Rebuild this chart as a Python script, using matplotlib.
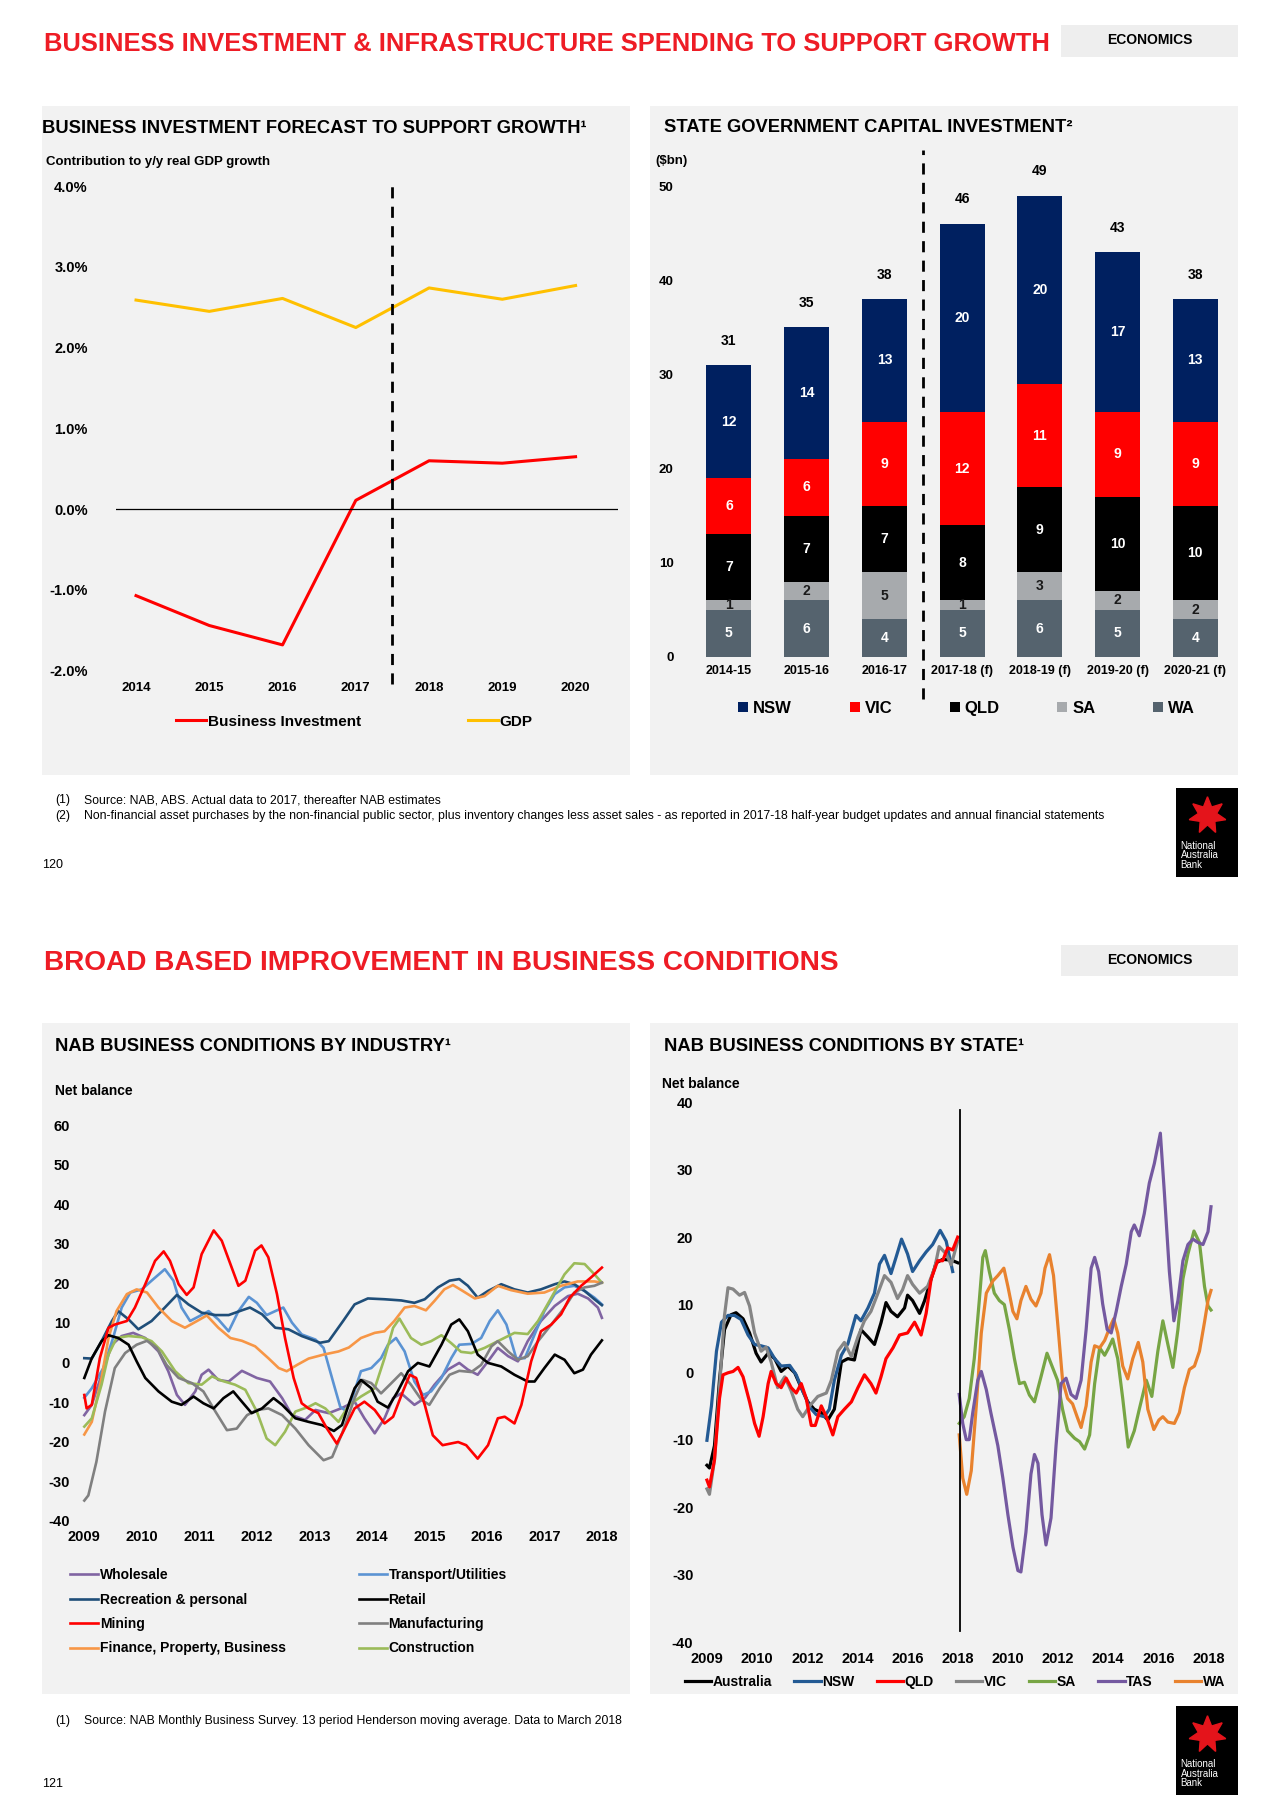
import numpy as np
import matplotlib
matplotlib.use('Agg')
import matplotlib.pyplot as plt
from matplotlib.patches import Rectangle
from matplotlib.lines import Line2D

plt.rcParams['font.family'] = ['Liberation Sans', 'DejaVu Sans']
NARROW = ['Liberation Sans Narrow', 'Liberation Sans', 'DejaVu Sans']

# ---------------- chart 1: business investment vs GDP (% contribution) ----------------
years = [2014, 2015, 2016, 2017, 2018, 2019, 2020]
business_inv = [-1.07, -1.44, -1.68, 0.11, 0.60, 0.57, 0.65]
gdp = [2.59, 2.45, 2.61, 2.25, 2.74, 2.60, 2.77]
pct_ticks = [-2, -1, 0, 1, 2, 3, 4]

# ---------------- chart 2: state government capital investment ($bn) ----------------
fin_years = ['2014-15', '2015-16', '2016-17', '2017-18 (f)', '2018-19 (f)', '2019-20 (f)', '2020-21 (f)']
wa = [5, 6, 4, 5, 6, 5, 4]
sa = [1, 2, 5, 1, 3, 2, 2]
qld = [7, 7, 7, 8, 9, 10, 10]
vic = [6, 6, 9, 12, 11, 9, 9]
nsw = [12, 14, 13, 20, 20, 17, 13]
totals = [31, 35, 38, 46, 49, 43, 38]

# ---------------- chart 3: business conditions by industry (net balance) ----------------
wholesale_x = [2009.0, 2009.13, 2009.3, 2009.48, 2009.65, 2009.85, 2010.06, 2010.29, 2010.46, 2010.61, 2010.75, 2010.93,
               2011.04, 2011.16, 2011.33, 2011.51, 2011.74, 2012.0, 2012.23, 2012.44, 2012.61, 2012.84, 2013.02, 2013.25,
               2013.48, 2013.7, 2013.87, 2014.05, 2014.22, 2014.37, 2014.51, 2014.74, 2014.92, 2015.09, 2015.32, 2015.52,
               2015.67, 2015.84, 2016.02, 2016.19, 2016.37, 2016.54, 2016.71, 2016.94, 2017.18, 2017.41, 2017.58, 2017.76,
               2017.93, 2018.0]
wholesale_y = [-13.3, -10.7, -3.1, 4.5, 6.7, 7.5, 6.2, 2.8, -2.2, -8.2, -10.7, -7.3,
               -3.1, -1.8, -4.4, -4.8, -2.1, -3.9, -4.8, -9.0, -13.3, -14.5, -12.0, -12.8,
               -11.5, -9.9, -14.1, -17.9, -14.1, -9.0, -7.8, -10.7, -9.0, -5.6, -1.8, -0.1,
               -1.8, -3.1, 0.3, 3.7, 1.6, 0.3, 5.4, 10.5, 14.3, 16.8, 17.4, 16.2,
               13.9, 11.3]

transport_x = [2009.0, 2009.13, 2009.33, 2009.5, 2009.65, 2009.8, 2010.0, 2010.17, 2010.4, 2010.55, 2010.69, 2010.84,
               2011.01, 2011.16, 2011.33, 2011.51, 2011.68, 2011.86, 2012.0, 2012.17, 2012.32, 2012.46, 2012.61, 2012.78,
               2013.02, 2013.16, 2013.34, 2013.45, 2013.55, 2013.66, 2013.81, 2013.99, 2014.16, 2014.28, 2014.42, 2014.57,
               2014.74, 2014.89, 2015.03, 2015.21, 2015.38, 2015.52, 2015.73, 2015.9, 2016.05, 2016.19, 2016.34, 2016.51,
               2016.66, 2016.83, 2017.0, 2017.18, 2017.35, 2017.52, 2017.7, 2017.87, 2018.0]
transport_y = [-8.9, -6.5, -1.4, 6.2, 13.9, 17.7, 18.5, 20.7, 23.6, 20.7, 13.9, 10.5,
               11.8, 13.0, 10.9, 7.9, 13.0, 16.6, 15.1, 12.0, 13.0, 13.9, 10.1, 7.1,
               5.8, 3.7, -5.6, -11.2, -12.2, -9.0, -2.2, -1.4, 1.1, 4.5, 6.2, 2.8,
               -4.8, -8.2, -7.3, -3.9, 1.1, 4.5, 4.7, 6.2, 10.5, 13.2, 9.6, 1.1,
               1.1, 7.1, 13.0, 17.3, 19.0, 19.4, 18.1, 16.4, 14.7]

recreation_x = [2009.0, 2009.13, 2009.3, 2009.48, 2009.59, 2009.77, 2009.94, 2010.17, 2010.4, 2010.61, 2010.81, 2011.04,
                2011.28, 2011.51, 2011.74, 2011.88, 2012.09, 2012.32, 2012.55, 2012.78, 2013.1, 2013.25, 2013.5, 2013.7,
                2013.93, 2014.22, 2014.51, 2014.74, 2014.92, 2015.15, 2015.35, 2015.52, 2015.67, 2015.84, 2016.02, 2016.25,
                2016.48, 2016.71, 2016.94, 2017.18, 2017.35, 2017.52, 2017.7, 2017.87, 2018.0]
recreation_y = [1.1, 1.0, 5.4, 10.5, 13.0, 10.9, 8.4, 10.5, 13.9, 17.1, 14.7, 12.6,
                12.0, 12.0, 13.2, 13.9, 12.2, 8.8, 8.4, 6.7, 5.0, 5.4, 10.5, 14.7,
                16.2, 16.0, 15.7, 15.1, 16.0, 19.0, 20.7, 21.1, 19.4, 16.4, 18.1, 19.8,
                18.5, 17.7, 18.5, 19.8, 20.5, 19.8, 18.1, 16.0, 14.5]

retail_x = [2009.0, 2009.13, 2009.3, 2009.42, 2009.59, 2009.77, 2009.91, 2010.06, 2010.29, 2010.52, 2010.69, 2010.9,
            2011.07, 2011.25, 2011.42, 2011.59, 2011.74, 2011.91, 2012.09, 2012.29, 2012.44, 2012.67, 2012.9, 2013.13,
            2013.34, 2013.48, 2013.6, 2013.7, 2013.81, 2013.99, 2014.1, 2014.28, 2014.45, 2014.63, 2014.8, 2015.0,
            2015.21, 2015.38, 2015.52, 2015.67, 2015.84, 2016.02, 2016.25, 2016.48, 2016.71, 2016.83, 2017.0, 2017.18,
            2017.35, 2017.52, 2017.67, 2017.81, 2018.0]
retail_y = [-3.9, 1.1, 5.4, 6.9, 6.2, 4.5, 0.3, -3.9, -7.3, -9.9, -10.7, -8.6,
            -10.3, -11.6, -9.0, -7.3, -9.9, -12.8, -11.6, -9.0, -10.7, -14.1, -15.0, -15.8,
            -17.3, -15.8, -10.5, -6.5, -4.4, -6.5, -9.9, -11.4, -7.3, -2.2, -0.1, -1.0,
            4.5, 9.6, 10.9, 7.9, 2.0, -0.1, -1.0, -3.1, -4.8, -4.8, -1.4, 2.0,
            0.7, -2.7, -1.8, 2.0, 5.6]

mining_x = [2009.0, 2009.04, 2009.13, 2009.27, 2009.42, 2009.53, 2009.74, 2009.88, 2010.06, 2010.23, 2010.38, 2010.49,
            2010.64, 2010.78, 2010.9, 2011.04, 2011.25, 2011.39, 2011.54, 2011.68, 2011.8, 2011.97, 2012.08, 2012.2,
            2012.35, 2012.49, 2012.64, 2012.78, 2012.9, 2013.07, 2013.22, 2013.39, 2013.5, 2013.7, 2013.87, 2014.05,
            2014.22, 2014.37, 2014.54, 2014.66, 2014.77, 2014.92, 2015.06, 2015.23, 2015.5, 2015.64, 2015.84, 2016.02,
            2016.19, 2016.31, 2016.48, 2016.6, 2016.77, 2016.94, 2017.12, 2017.29, 2017.44, 2017.64, 2017.81, 2018.0]
mining_y = [-8.2, -11.6, -10.7, 1.1, 8.8, 9.6, 10.5, 13.9, 19.8, 25.7, 28.1, 25.7,
            19.8, 17.1, 19.0, 27.4, 33.4, 30.8, 24.9, 19.4, 20.7, 28.3, 29.6, 26.6,
            17.3, 6.2, -3.9, -10.3, -11.6, -12.8, -16.7, -20.5, -17.5, -11.6, -9.9, -12.0,
            -15.4, -13.7, -7.3, -3.1, -3.9, -10.7, -18.4, -20.9, -20.1, -20.9, -24.3, -20.9,
            -14.1, -13.7, -15.4, -10.7, 0.3, 7.9, 9.6, 12.2, 16.4, 19.4, 21.5, 24.0]

manufacturing_x = [2009.0, 2009.07, 2009.21, 2009.36, 2009.53, 2009.71, 2009.91, 2010.09, 2010.26, 2010.43, 2010.64, 2010.87,
                   2011.07, 2011.28, 2011.48, 2011.65, 2011.83, 2012.0, 2012.2, 2012.44, 2012.67, 2012.9, 2013.16, 2013.31,
                   2013.48, 2013.7, 2013.84, 2013.99, 2014.16, 2014.34, 2014.51, 2014.68, 2014.86, 2015.0, 2015.18, 2015.35,
                   2015.52, 2015.73, 2015.9, 2016.08, 2016.19, 2016.37, 2016.54, 2016.71, 2016.89, 2017.12, 2017.35, 2017.52,
                   2017.7, 2017.87, 2018.0]
manufacturing_y = [-34.9, -33.6, -25.1, -12.4, -1.4, 2.4, 4.5, 5.5, 3.7, -0.6, -3.9, -5.2,
                   -7.3, -12.4, -17.1, -16.7, -13.3, -12.0, -11.6, -13.3, -16.7, -20.9, -24.7, -23.9,
                   -18.0, -9.0, -4.4, -5.2, -7.8, -5.2, -2.7, -5.6, -9.4, -10.7, -6.5, -3.1,
                   -2.1, -2.4, -0.6, 4.1, 5.4, 2.8, 0.7, 1.6, 5.4, 9.6, 13.9, 17.7,
                   19.0, 19.4, 20.2]

finance_x = [2009.0, 2009.13, 2009.3, 2009.42, 2009.56, 2009.74, 2009.91, 2010.09, 2010.29, 2010.52, 2010.75, 2010.96,
             2011.13, 2011.33, 2011.54, 2011.74, 2011.97, 2012.2, 2012.38, 2012.52, 2012.7, 2012.9, 2013.16, 2013.42,
             2013.6, 2013.81, 2014.05, 2014.22, 2014.39, 2014.57, 2014.74, 2014.94, 2015.09, 2015.26, 2015.41, 2015.58,
             2015.79, 2015.96, 2016.19, 2016.42, 2016.71, 2017.0, 2017.29, 2017.58, 2017.87, 2018.0]
finance_y = [-18.2, -15.0, -3.9, 6.2, 13.0, 17.3, 18.5, 17.7, 13.9, 10.5, 8.8, 10.5,
             11.9, 8.8, 6.2, 5.5, 4.1, 1.1, -1.4, -2.2, -0.6, 1.0, 2.0, 2.8,
             3.8, 6.2, 7.5, 7.9, 10.5, 13.9, 14.3, 13.2, 15.6, 18.5, 19.6, 18.1,
             16.2, 16.8, 19.4, 18.3, 17.4, 17.7, 19.4, 20.5, 20.5, 20.2]

construction_x = [2009.0, 2009.13, 2009.3, 2009.42, 2009.56, 2009.77, 2010.0, 2010.17, 2010.35, 2010.58, 2010.81, 2011.04,
                  2011.22, 2011.39, 2011.62, 2011.8, 2012.0, 2012.17, 2012.32, 2012.49, 2012.67, 2012.9, 2013.02, 2013.19,
                  2013.42, 2013.6, 2013.81, 2014.05, 2014.22, 2014.37, 2014.48, 2014.68, 2014.86, 2015.03, 2015.21, 2015.38,
                  2015.55, 2015.73, 2015.96, 2016.19, 2016.48, 2016.71, 2016.89, 2017.12, 2017.35, 2017.52, 2017.7, 2017.87,
                  2018.0]
construction_y = [-16.2, -14.1, -5.6, 2.0, 6.2, 6.7, 6.4, 5.4, 2.8, -2.2, -5.2, -5.6,
                  -3.5, -4.6, -5.6, -6.9, -12.4, -19.2, -20.9, -17.5, -12.4, -11.2, -10.3, -11.6,
                  -15.0, -10.8, -8.6, -6.5, 1.1, 8.8, 11.1, 6.2, 4.5, 5.4, 6.9, 4.9,
                  2.7, 2.4, 3.7, 5.4, 7.5, 7.2, 10.5, 16.4, 22.3, 25.1, 24.9, 22.3,
                  20.2]

industry_ticks = [2009, 2010, 2011, 2012, 2013, 2014, 2015, 2016, 2017, 2018]

# ---------------- chart 4: business conditions by state (net balance) ----------------
# x is a position along the category axis: 0-5 = first block (2009-2018), 5-10 = second block
state_tick_pos = [0, 1, 2, 3, 4, 5, 6, 7, 8, 9, 10]
state_tick_lab = ['2009', '2010', '2012', '2014', '2016', '2018', '2010', '2012', '2014', '2016', '2018']

australia_x = [0.0, 0.05, 0.15, 0.25, 0.35, 0.48, 0.58, 0.72, 0.85, 0.98, 1.08, 1.22, 1.35, 1.48, 1.61, 1.75, 1.88,
               2.01, 2.14, 2.28, 2.41, 2.54, 2.68, 2.81, 2.94, 3.07, 3.21, 3.34, 3.47, 3.57, 3.67, 3.8, 3.94, 4.0,
               4.1, 4.24, 4.34, 4.47, 4.57, 4.7, 4.87, 5.0]
australia_y = [-13.8, -14.2, -10.9, -1.2, 6.3, 8.5, 8.8, 7.9, 5.8, 2.8, 1.5, 2.8, 2.0, 0.1, 0.9, -0.1, -2.3,
               -4.4, -5.5, -6.0, -7.1, -5.5, 1.5, 2.0, 1.8, 6.3, 5.2, 4.1, 7.3, 10.3, 9.0, 8.2, 9.5, 11.4,
               10.6, 8.7, 10.6, 13.8, 16.2, 16.7, 16.6, 16.2]

nsw_x = [0.0, 0.09, 0.19, 0.29, 0.42, 0.55, 0.68, 0.82, 0.95, 1.08, 1.22, 1.35, 1.48, 1.65, 1.78, 1.91, 2.05,
         2.18, 2.34, 2.44, 2.54, 2.68, 2.81, 2.97, 3.07, 3.21, 3.34, 3.44, 3.54, 3.67, 3.77, 3.88, 4.0, 4.1,
         4.24, 4.37, 4.5, 4.65, 4.77, 4.9]
nsw_y = [-10.1, -5.0, 3.1, 7.4, 8.4, 8.4, 7.8, 5.5, 4.1, 3.9, 3.6, 2.0, 0.9, 1.0, -0.4, -2.8, -5.2,
         -6.3, -6.6, -5.5, -1.2, 2.5, 4.2, 8.4, 7.6, 9.5, 11.7, 16.0, 17.3, 14.6, 17.0, 19.7, 17.5, 14.9,
         16.5, 17.8, 18.9, 21.0, 19.4, 14.9]

qld_x = [0.0, 0.05, 0.15, 0.25, 0.32, 0.42, 0.52, 0.62, 0.72, 0.85, 0.95, 1.04, 1.12, 1.22, 1.28, 1.38, 1.48,
         1.58, 1.68, 1.78, 1.88, 1.98, 2.08, 2.16, 2.28, 2.38, 2.51, 2.61, 2.74, 2.88, 3.01, 3.14, 3.27, 3.37,
         3.47, 3.57, 3.71, 3.84, 4.0, 4.14, 4.27, 4.37, 4.47, 4.6, 4.7, 4.8, 4.9, 5.0]
qld_y = [-16.0, -17.0, -13.0, -3.9, -0.4, -0.1, 0.1, 0.7, -0.7, -4.4, -7.6, -9.5, -6.6, -1.7, 0.1, -1.7, -2.3,
         -0.9, -2.3, -3.1, -1.7, -3.9, -7.9, -7.9, -5.0, -6.6, -9.3, -6.6, -5.5, -4.4, -2.3, -0.4, -1.7, -3.1,
         -0.7, 2.0, 3.6, 5.5, 5.8, 7.4, 5.5, 8.7, 13.8, 16.5, 16.5, 18.4, 18.1, 20.0]

vic_x = [0.0, 0.05, 0.15, 0.25, 0.35, 0.42, 0.52, 0.65, 0.75, 0.85, 0.95, 1.08, 1.18, 1.28, 1.41, 1.55, 1.68,
         1.81, 1.91, 2.05, 2.21, 2.38, 2.48, 2.61, 2.74, 2.88, 3.01, 3.14, 3.27, 3.41, 3.54, 3.67, 3.8, 3.9,
         4.0, 4.1, 4.24, 4.4, 4.54, 4.63, 4.77, 4.87, 5.0]
vic_y = [-17.3, -18.1, -13.0, -2.3, 8.4, 12.5, 12.3, 11.4, 11.8, 9.8, 5.8, 3.1, 3.7, 1.5, -2.3, -0.7, -2.8,
         -5.5, -6.6, -5.0, -3.6, -3.1, -1.2, 3.1, 4.4, 2.3, 5.2, 7.6, 9.0, 11.7, 14.3, 13.3, 10.9, 12.2,
         14.3, 13.0, 11.7, 12.7, 15.4, 18.6, 17.5, 15.9, 19.4]

sa_x = [5.03, 5.13, 5.23, 5.33, 5.43, 5.5, 5.55, 5.63, 5.73, 5.83, 5.93, 6.03, 6.13, 6.23, 6.33, 6.43, 6.53,
        6.66, 6.78, 6.89, 6.99, 7.09, 7.19, 7.33, 7.43, 7.53, 7.63, 7.73, 7.83, 7.93, 8.01, 8.09, 8.19, 8.29,
        8.4, 8.52, 8.62, 8.76, 8.87, 8.99, 9.09, 9.19, 9.29, 9.39, 9.49, 9.59, 9.71, 9.82, 9.92, 9.99, 10.05]
sa_y = [-7.6, -6.6, -3.9, 2.0, 10.6, 17.0, 18.0, 14.9, 11.7, 10.6, 10.0, 6.3, 2.0, -1.7, -1.5, -3.4, -4.4,
        -0.7, 2.8, 0.7, -1.2, -5.5, -8.7, -9.8, -10.3, -11.4, -9.3, -1.7, 3.6, 2.5, 3.6, 4.9, 2.0, -3.9,
        -11.1, -8.7, -5.5, -1.2, -3.6, 3.1, 7.6, 4.1, 0.7, 6.3, 13.8, 17.5, 20.9, 19.2, 12.7, 9.8, 9.2]

tas_x = [5.03, 5.1, 5.17, 5.23, 5.3, 5.4, 5.47, 5.57, 5.66, 5.8, 5.9, 6.0, 6.1, 6.2, 6.26, 6.36, 6.46,
         6.53, 6.6, 6.68, 6.76, 6.86, 6.96, 7.06, 7.16, 7.26, 7.36, 7.46, 7.56, 7.66, 7.73, 7.81, 7.89, 7.98,
         8.06, 8.16, 8.26, 8.36, 8.46, 8.52, 8.62, 8.72, 8.82, 8.92, 9.04, 9.12, 9.22, 9.31, 9.39, 9.49, 9.59,
         9.69, 9.79, 9.89, 9.99, 10.05]
tas_y = [-3.3, -7.6, -10.0, -10.0, -6.0, -1.2, 0.1, -2.6, -6.0, -10.9, -15.7, -21.1, -25.9, -29.4, -29.6, -23.7, -15.1,
         -12.2, -13.5, -21.1, -25.6, -21.6, -10.9, -1.7, -0.9, -3.3, -3.9, -1.2, 6.3, 15.4, 17.0, 14.9, 10.1, 6.3,
         5.8, 9.0, 12.7, 16.0, 20.8, 21.8, 20.2, 23.5, 28.0, 30.9, 35.4, 26.6, 14.9, 7.6, 10.6, 16.5, 18.9,
         19.7, 19.2, 18.9, 20.8, 24.5]

wa_x = [5.03, 5.1, 5.18, 5.27, 5.37, 5.47, 5.57, 5.7, 5.8, 5.92, 6.0, 6.1, 6.18, 6.26, 6.36, 6.46, 6.56,
        6.66, 6.74, 6.83, 6.91, 7.01, 7.09, 7.19, 7.29, 7.38, 7.46, 7.56, 7.66, 7.73, 7.83, 7.93, 8.03, 8.11,
        8.19, 8.29, 8.39, 8.49, 8.6, 8.69, 8.79, 8.91, 9.01, 9.09, 9.19, 9.32, 9.42, 9.52, 9.62, 9.72, 9.82,
        9.92, 9.99, 10.05]
wa_y = [-9.3, -15.7, -18.1, -14.6, -5.0, 5.8, 11.7, 13.5, 14.3, 15.4, 12.7, 9.0, 7.9, 10.6, 12.7, 10.8, 9.8,
        11.7, 15.4, 17.4, 14.3, 5.8, -1.2, -3.9, -4.7, -6.6, -8.2, -5.0, 1.5, 3.9, 3.6, 4.7, 6.6, 7.9,
        5.8, 0.9, -1.0, 2.0, 4.4, 1.5, -5.5, -8.5, -7.1, -6.6, -7.4, -7.6, -6.0, -2.3, 0.4, 0.9, 3.1,
        7.4, 10.6, 12.1]

# ---------------- page layout helpers (positions measured on a 1108 x 1566 grid) ----------------
W, H = 1108.0, 1566.0


def fx(x):
    return x / W


def fy(y):
    return 1 - y / H


def add_box(fig, x0, y0, x1, y1, color, z=-10):
    fig.patches.append(Rectangle((fx(x0), fy(y1)), fx(x1) - fx(x0), fy(y0) - fy(y1),
                                 transform=fig.transFigure, facecolor=color, edgecolor='none', zorder=z))


def add_ax(fig, x0, y0, x1, y1):
    ax = fig.add_axes([fx(x0), fy(y1), fx(x1) - fx(x0), fy(y0) - fy(y1)])
    ax.set_facecolor('none')
    ax.set_zorder(5)
    for s in ax.spines.values():
        s.set_visible(False)
    ax.tick_params(length=0)
    return ax


def nab_logo(fig, x0, y0):
    add_box(fig, x0, y0, x0 + 54, y0 + 77, 'black', z=1)
    fig.add_artist(Line2D([fx(x0 + 27)], [fy(y0 + 24)], marker=(7, 1, 0), markersize=27,
                          color='#e4141b', transform=fig.transFigure, zorder=2))
    fig.text(fx(x0 + 4), fy(y0 + 46), 'National\nAustralia\nBank', color='white', fontsize=7,
             family=NARROW, va='top', ha='left', linespacing=0.95, zorder=3)


def header(fig, y, text, size):
    fig.text(fx(38), fy(y), text, color='#ee1c25', fontsize=size, fontweight='bold', family=NARROW,
             va='center', ha='left')
    add_box(fig, 918, y - 16, 1072, y + 11, '#eeeeee')
    fig.text(fx(995), fy(y - 3), 'ECONOMICS', fontsize=10, fontweight='bold', family=NARROW,
             va='center', ha='center')


TITLE_SIZE = 13.2

fig = plt.figure(figsize=(12.8, 18.11), dpi=100)
fig.patch.set_facecolor('white')

# ======================= page 120 =======================
header(fig, 38, 'BUSINESS INVESTMENT & INFRASTRUCTURE SPENDING TO SUPPORT GROWTH', 18.4)
add_box(fig, 36, 92, 545, 670, '#f2f2f2')
add_box(fig, 563, 92, 1072, 670, '#f2f2f2')

# ---- chart 1 ----
fig.text(fx(36), fy(111), 'BUSINESS INVESTMENT FORECAST TO SUPPORT GROWTH\u00b9', fontsize=TITLE_SIZE,
         fontweight='bold', family=NARROW, va='center')
fig.text(fx(40), fy(140), 'Contribution to y/y real GDP growth', fontsize=9.5, fontweight='bold', va='center')
ax1 = add_ax(fig, 100, 161, 535, 580)
ax1.plot(years, business_inv, color='#ff0000', lw=2.2, label='Business Investment')
ax1.plot(years, gdp, color='#ffc000', lw=2.2, label='GDP')
ax1.axhline(0, color='black', lw=0.9)
ax1.plot([2017.5, 2017.5], [-2.17, 4.09], color='black', lw=2, ls=(0, (4, 3)), clip_on=False)
ax1.set_xlim(2013.72, 2020.58)
ax1.set_ylim(-2, 4)
ax1.set_yticks(pct_ticks)
ax1.set_yticklabels(['%.1f%%' % v for v in pct_ticks], fontsize=10.5, fontweight='bold')
ax1.set_xticks(years)
ax1.set_xticklabels([str(y) for y in years], fontsize=9.5, fontweight='bold')
ax1.tick_params(axis='y', pad=20)
ax1.tick_params(axis='x', pad=8)
ax1.legend(loc='upper left', bbox_to_anchor=(fx(152), fy(618)), bbox_transform=fig.transFigure,
           ncol=2, frameon=False, handlelength=2.0, handletextpad=0.1, columnspacing=7.0,
           borderpad=0, borderaxespad=0, prop={'size': 11, 'weight': 'bold'})

# ---- chart 2 ----
fig.text(fx(575), fy(110), 'STATE GOVERNMENT CAPITAL INVESTMENT\u00b2', fontsize=TITLE_SIZE,
         fontweight='bold', family=NARROW, va='center')
fig.text(fx(567), fy(139), '($bn)', fontsize=9.5, fontweight='bold', va='center')
ax2 = add_ax(fig, 600, 161, 1065, 568)
xpos = np.arange(len(fin_years))
stack = [('WA', wa, '#55636e', 'white'), ('SA', sa, '#a7aaad', '#1a1a1a'), ('QLD', qld, '#000000', 'white'),
         ('VIC', vic, '#ff0000', 'white'), ('NSW', nsw, '#002060', 'white')]
bottom = np.zeros(len(fin_years))
handles = {}
for name, vals, col, txtcol in stack:
    bars = ax2.bar(xpos, vals, width=0.58, bottom=bottom, color=col, label=name)
    handles[name] = bars
    for i, v in enumerate(vals):
        ax2.text(xpos[i], bottom[i] + v / 2, str(v), ha='center', va='center', color=txtcol,
                 fontsize=10, fontweight='bold')
    bottom = bottom + np.array(vals)
for i, t in enumerate(totals):
    ax2.text(xpos[i], t + 2.6, str(t), ha='center', va='center', fontsize=10, fontweight='bold')
ax2.plot([2.5, 2.5], [-4.5, 53.8], color='black', lw=2, ls=(0, (4, 3)), clip_on=False)
ax2.set_xlim(-0.46, 6.45)
ax2.set_ylim(0, 50)
ax2.set_yticks([0, 10, 20, 30, 40, 50])
ax2.set_yticklabels(['0', '10', '20', '30', '40', '50'], fontsize=9.5, fontweight='bold')
ax2.set_xticks(xpos)
ax2.set_xticklabels(fin_years, fontsize=9, fontweight='bold')
ax2.tick_params(axis='y', pad=14)
ax2.tick_params(axis='x', pad=6)
order = ['NSW', 'VIC', 'QLD', 'SA', 'WA']
ax2.legend([handles[n] for n in order], order, loc='upper left', bbox_to_anchor=(fx(639), fy(606)),
           bbox_transform=fig.transFigure, ncol=5, frameon=False, handlelength=0.6, handleheight=0.6,
           handletextpad=0.3, columnspacing=3.45, borderpad=0, borderaxespad=0,
           prop={'size': 12, 'weight': 'bold'})

fig.text(fx(48), fy(692), '(1)', fontsize=8.8, family=NARROW, va='center')
fig.text(fx(73), fy(692), 'Source: NAB, ABS. Actual data to 2017, thereafter NAB estimates',
         fontsize=8.8, family=NARROW, va='center')
fig.text(fx(48), fy(706), '(2)', fontsize=8.8, family=NARROW, va='center')
fig.text(fx(73), fy(706), 'Non-financial asset purchases by the non-financial public sector, plus inventory changes '
         'less asset sales - as reported in 2017-18 half-year budget updates and annual financial statements',
         fontsize=8.8, family=NARROW, va='center')
fig.text(fx(36), fy(748), '120', fontsize=9, family=NARROW, va='center')
nab_logo(fig, 1018, 681)

# ======================= page 121 =======================
header(fig, 833, 'BROAD BASED IMPROVEMENT IN BUSINESS CONDITIONS', 20.2)
add_box(fig, 36, 885, 545, 1465, '#f2f2f2')
add_box(fig, 563, 885, 1072, 1465, '#f2f2f2')

# ---- chart 3 ----
fig.text(fx(48), fy(905), 'NAB BUSINESS CONDITIONS BY INDUSTRY\u00b9', fontsize=TITLE_SIZE,
         fontweight='bold', family=NARROW, va='center')
fig.text(fx(48), fy(943), 'Net balance', fontsize=10, fontweight='bold', va='center')
ax3 = add_ax(fig, 69, 973, 526, 1315)
ind = {}
ind['Wholesale'] = ax3.plot(wholesale_x, wholesale_y, color='#8064a2', lw=1.9)[0]
ind['Transport/Utilities'] = ax3.plot(transport_x, transport_y, color='#5b93d3', lw=1.9)[0]
ind['Recreation & personal'] = ax3.plot(recreation_x, recreation_y, color='#1f4e79', lw=1.9)[0]
ind['Finance, Property, Business'] = ax3.plot(finance_x, finance_y, color='#f79646', lw=1.9)[0]
ind['Construction'] = ax3.plot(construction_x, construction_y, color='#9bbb59', lw=1.9)[0]
ind['Manufacturing'] = ax3.plot(manufacturing_x, manufacturing_y, color='#808080', lw=1.9)[0]
ind['Retail'] = ax3.plot(retail_x, retail_y, color='#000000', lw=1.9)[0]
ind['Mining'] = ax3.plot(mining_x, mining_y, color='#ff0000', lw=1.9)[0]
ax3.set_xlim(2008.92, 2018.1)
ax3.set_ylim(-40, 60)
ax3.set_yticks(range(-40, 61, 10))
ax3.set_yticklabels([str(v) for v in range(-40, 61, 10)], fontsize=10.5, fontweight='bold')
ax3.set_xticks(industry_ticks)
ax3.set_xticklabels([str(v) for v in industry_ticks], fontsize=10.5, fontweight='bold')
ax3.tick_params(axis='y', pad=7)
ax3.tick_params(axis='x', pad=7)
col1 = ['Wholesale', 'Recreation & personal', 'Mining', 'Finance, Property, Business']
col2 = ['Transport/Utilities', 'Retail', 'Manufacturing', 'Construction']
leg_kw = dict(loc='upper left', bbox_transform=fig.transFigure, frameon=False, handlelength=2.0,
              handletextpad=0.1, labelspacing=0.75, borderpad=0, borderaxespad=0,
              prop={'size': 10, 'weight': 'bold'})
leg1 = ax3.legend([ind[n] for n in col1], col1, bbox_to_anchor=(fx(61), fy(1356)), **leg_kw)
ax3.add_artist(leg1)
ax3.legend([ind[n] for n in col2], col2, bbox_to_anchor=(fx(311), fy(1356)), **leg_kw)

# ---- chart 4 ----
fig.text(fx(575), fy(905), 'NAB BUSINESS CONDITIONS BY STATE\u00b9', fontsize=TITLE_SIZE,
         fontweight='bold', family=NARROW, va='center')
fig.text(fx(573), fy(937), 'Net balance', fontsize=10, fontweight='bold', va='center')
ax4 = add_ax(fig, 605, 953, 1060, 1420)
st = {}
st['Australia'] = ax4.plot(australia_x, australia_y, color='#000000', lw=2.3)[0]
st['NSW'] = ax4.plot(nsw_x, nsw_y, color='#235a94', lw=2.3)[0]
st['VIC'] = ax4.plot(vic_x, vic_y, color='#858585', lw=2.3)[0]
st['QLD'] = ax4.plot(qld_x, qld_y, color='#ff0000', lw=2.3)[0]
st['SA'] = ax4.plot(sa_x, sa_y, color='#77a544', lw=2.3)[0]
st['WA'] = ax4.plot(wa_x, wa_y, color='#e8822e', lw=2.3)[0]
st['TAS'] = ax4.plot(tas_x, tas_y, color='#7459a0', lw=2.3)[0]
ax4.plot([5.04, 5.04], [-38.3, 38.8], color='black', lw=1.3)
ax4.set_xlim(-0.16, 10.32)
ax4.set_ylim(-40, 40)
ax4.set_yticks(range(-40, 41, 10))
ax4.set_yticklabels([str(v) for v in range(-40, 41, 10)], fontsize=10.5, fontweight='bold')
ax4.set_xticks(state_tick_pos)
ax4.set_xticklabels(state_tick_lab, fontsize=10.5, fontweight='bold')
ax4.tick_params(axis='y', pad=4)
ax4.tick_params(axis='x', pad=7)
st_order = ['Australia', 'NSW', 'QLD', 'VIC', 'SA', 'TAS', 'WA']
ax4.legend([st[n] for n in st_order], st_order, loc='upper left', bbox_to_anchor=(fx(593), fy(1448)),
           bbox_transform=fig.transFigure, ncol=7, frameon=False, handlelength=1.9, handletextpad=0.1,
           columnspacing=1.6, borderpad=0, borderaxespad=0, prop={'size': 10, 'weight': 'bold'})

fig.text(fx(48), fy(1488), '(1)', fontsize=8.8, family=NARROW, va='center')
fig.text(fx(73), fy(1488), 'Source: NAB Monthly Business Survey. 13 period Henderson moving average. Data to March 2018',
         fontsize=8.8, family=NARROW, va='center')
fig.text(fx(36), fy(1543), '121', fontsize=9, family=NARROW, va='center')
nab_logo(fig, 1018, 1475)

fig.savefig('out.png', dpi=100, facecolor='white')
